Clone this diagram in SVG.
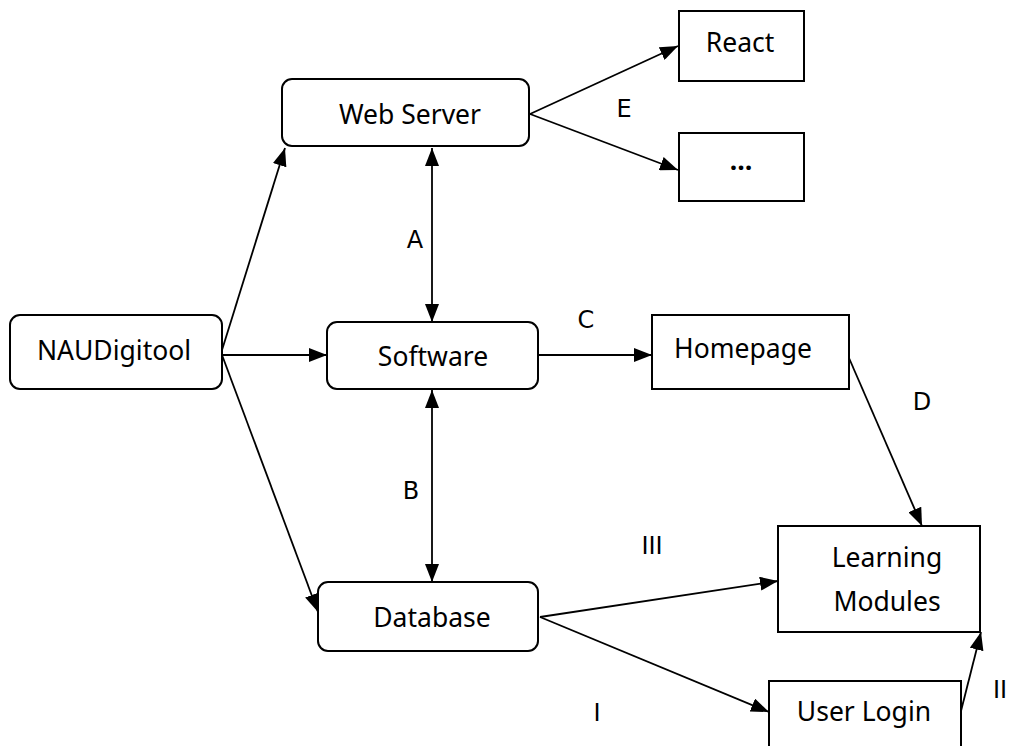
<svg xmlns="http://www.w3.org/2000/svg" width="1009" height="746" viewBox="0 0 1009 746">
<style>
.box{fill:#fff;stroke:#000;stroke-width:2}
.t{font-family:"Noto Sans","Noto Sans CJK SC",sans-serif;font-size:26.5px;fill:#000;text-anchor:middle}
.lbl{font-family:"DejaVu Sans","Noto Sans",sans-serif;font-size:24px;fill:#000;text-anchor:middle}
.c{stroke:#000;stroke-width:1.8;fill:none}
</style>
<defs>
<marker id="ah" viewBox="0 0 18 14" refX="18" refY="7" markerWidth="18" markerHeight="14" markerUnits="userSpaceOnUse" orient="auto-start-reverse">
<path d="M0,0 L18,7 L0,14 Z" fill="#000"/>
</marker>
</defs>
<rect width="1009" height="746" fill="#fff"/>
<g id="connectors">
<line class="c" x1="222" y1="350" x2="285" y2="148" marker-end="url(#ah)"/>
<line class="c" x1="222" y1="355" x2="327" y2="355" marker-end="url(#ah)"/>
<line class="c" x1="222" y1="355" x2="318" y2="612" marker-end="url(#ah)"/>
<line class="c" x1="432" y1="148" x2="432" y2="322" marker-start="url(#ah)" marker-end="url(#ah)"/>
<line class="c" x1="432" y1="390" x2="432" y2="582" marker-start="url(#ah)" marker-end="url(#ah)"/>
<line class="c" x1="530" y1="114" x2="678" y2="46" marker-end="url(#ah)"/>
<line class="c" x1="530" y1="114" x2="678" y2="170" marker-end="url(#ah)"/>
<line class="c" x1="538" y1="355" x2="652" y2="355" marker-end="url(#ah)"/>
<line class="c" x1="849" y1="358" x2="922" y2="526" marker-end="url(#ah)"/>
<line class="c" x1="540" y1="617" x2="778" y2="581" marker-end="url(#ah)"/>
<line class="c" x1="540" y1="617" x2="769" y2="712" marker-end="url(#ah)"/>
<line class="c" x1="961" y1="711" x2="981" y2="632" marker-end="url(#ah)"/>
<text class="lbl" x="415" y="248">A</text>
<text class="lbl" x="411" y="499">B</text>
<text class="lbl" x="586" y="328">C</text>
<text class="lbl" x="922" y="410">D</text>
<text class="lbl" x="624" y="117">E</text>
<text class="lbl" x="652" y="554">III</text>
<text class="lbl" x="597" y="721">I</text>
<text class="lbl" x="993" y="698" style="text-anchor:start">II</text>
</g>
<g id="NAUDigitool">
<rect class="box" x="10" y="315" width="212" height="74" rx="10"/>
<text class="t" x="114" y="360">NAUDigitool</text>
</g>
<g id="WebServer">
<rect class="box" x="282" y="79" width="247" height="67" rx="10"/>
<text class="t" x="410" y="124">Web Server</text>
</g>
<g id="Software">
<rect class="box" x="327" y="322" width="211" height="67" rx="10"/>
<text class="t" x="433" y="366">Software</text>
</g>
<g id="Database">
<rect class="box" x="318" y="582" width="220" height="69" rx="10"/>
<text class="t" x="432" y="627">Database</text>
</g>
<g id="React">
<rect class="box" x="679" y="11" width="125" height="70"/>
<text class="t" x="740" y="52">React</text>
</g>
<g id="More">
<rect class="box" x="679" y="133" width="125" height="68"/>
<text class="t" x="741" y="170" style="font-weight:bold">…</text>
</g>
<g id="Homepage">
<rect class="box" x="652" y="315" width="197" height="74"/>
<text class="t" x="743" y="358">Homepage</text>
</g>
<g id="LearningModules">
<rect class="box" x="778" y="526" width="202" height="106"/>
<text class="t" x="887" y="567">Learning</text>
<text class="t" x="887" y="611">Modules</text>
</g>
<g id="UserLogin">
<rect class="box" x="769" y="681" width="192" height="80"/>
<text class="t" x="864" y="721">User Login</text>
</g>
</svg>
